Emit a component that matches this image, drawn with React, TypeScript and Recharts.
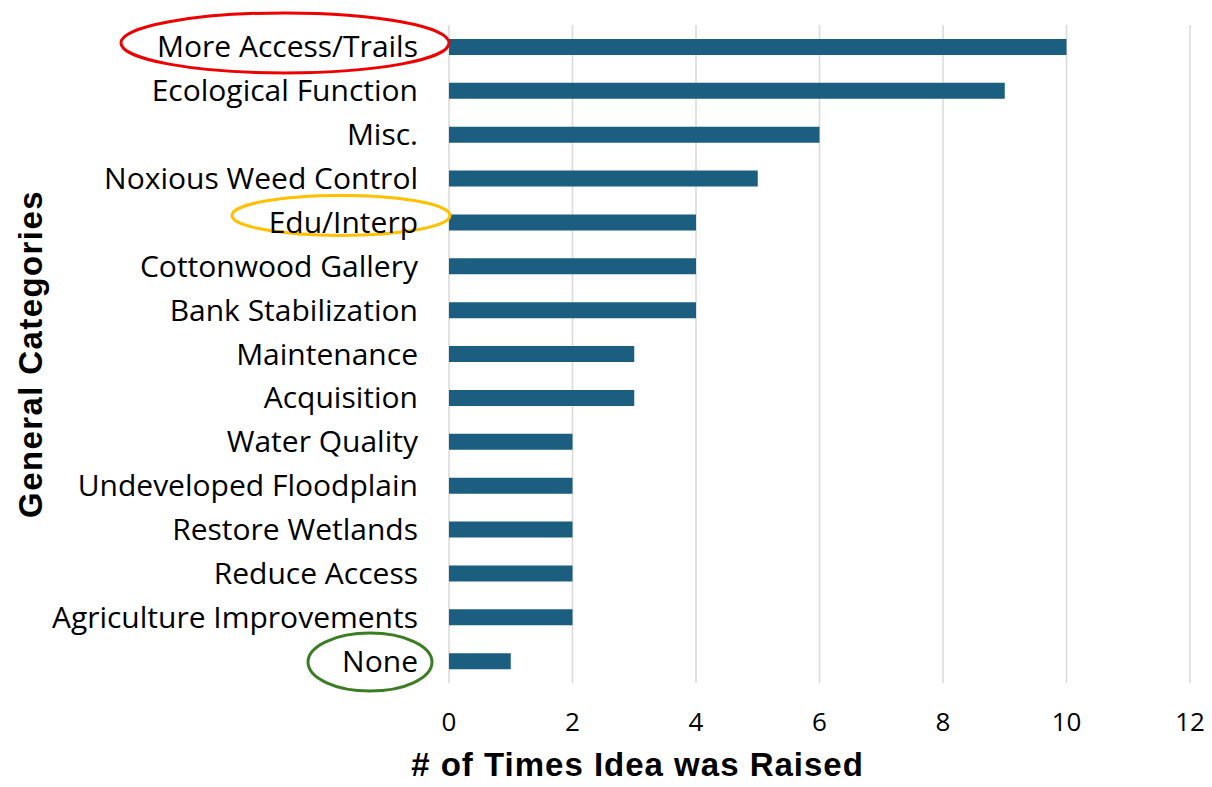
import React from 'react';
import { BarChart, Bar, XAxis, YAxis, CartesianGrid, Label } from 'recharts';

const categories = [
  'More Access/Trails',
  'Ecological Function',
  'Misc.',
  'Noxious Weed Control',
  'Edu/Interp',
  'Cottonwood Gallery',
  'Bank Stabilization',
  'Maintenance',
  'Acquisition',
  'Water Quality',
  'Undeveloped Floodplain',
  'Restore Wetlands',
  'Reduce Access',
  'Agriculture Improvements',
  'None',
];
const counts = [10, 9, 6, 5, 4, 4, 4, 3, 3, 2, 2, 2, 2, 2, 1];
const xTicks = [0, 2, 4, 6, 8, 10, 12];

const data = categories.map((c, i) => ({ category: c, count: counts[i] }));

const highlights: Record<string, { color: string; dx: number; dy: number; rx: number; ry: number }> = {
  'More Access/Trails': { color: '#EE0000', dx: -133, dy: -4, rx: 164, ry: 30 },
  'Edu/Interp': { color: '#FFC000', dx: -77, dy: -7, rx: 109, ry: 20 },
  'None': { color: '#3A7D22', dx: -48, dy: 1, rx: 62, ry: 29 },
};

const FONT = 'Open Sans, Liberation Sans, sans-serif';
const TITLE_FONT = 'Liberation Sans, Arial, sans-serif';

const CategoryTick = (props: any) => {
  const { x, y, payload } = props;
  const h = highlights[payload.value];
  return (
    <g>
      {h && (
        <ellipse cx={x + h.dx} cy={y + h.dy} rx={h.rx} ry={h.ry} fill="none" stroke={h.color} strokeWidth={3} />
      )}
      <text x={x} y={y} dy="0.35em" textAnchor="end" fontFamily={FONT} fontSize={30} fill="#000">
        {payload.value}
      </text>
    </g>
  );
};

export default function App() {
  return (
    <div style={{ position: 'absolute', left: 0, top: 0, width: 1212, height: 787, background: '#fff' }}>
      <BarChart
        width={1212}
        height={787}
        data={data}
        layout="vertical"
        margin={{ top: 25, right: 22, bottom: 0, left: 0 }}
      >
        <CartesianGrid horizontal={false} vertical stroke="#D9D9D9" strokeWidth={1.5} />
        <XAxis
          type="number"
          domain={[0, 12]}
          ticks={xTicks}
          axisLine={false}
          tickLine={false}
          tickSize={0}
          tickMargin={30}
          height={104}
          tick={{ fontSize: 26, fill: '#000', fontFamily: FONT }}
        >
          <Label
            value="# of Times Idea was Raised"
            position="insideBottom"
            offset={11}
            dx={-182}
            style={{ fontSize: 33, fontWeight: 'bold', fill: '#000', fontFamily: TITLE_FONT, letterSpacing: 1 }}
          />
        </XAxis>
        <YAxis
          type="category"
          dataKey="category"
          width={449}
          axisLine={false}
          tickLine={false}
          tickSize={0}
          tickMargin={31}
          interval={0}
          tick={<CategoryTick />}
        >
          <Label
            value="General Categories"
            angle={-90}
            position="insideLeft"
            offset={30}
            style={{ fontSize: 33, fontWeight: 'bold', fill: '#000', fontFamily: TITLE_FONT, textAnchor: 'middle', letterSpacing: 1.4 }}
          />
        </YAxis>
        <Bar dataKey="count" fill="#1B5E7F" barSize={16} isAnimationActive={false} />
      </BarChart>
    </div>
  );
}
